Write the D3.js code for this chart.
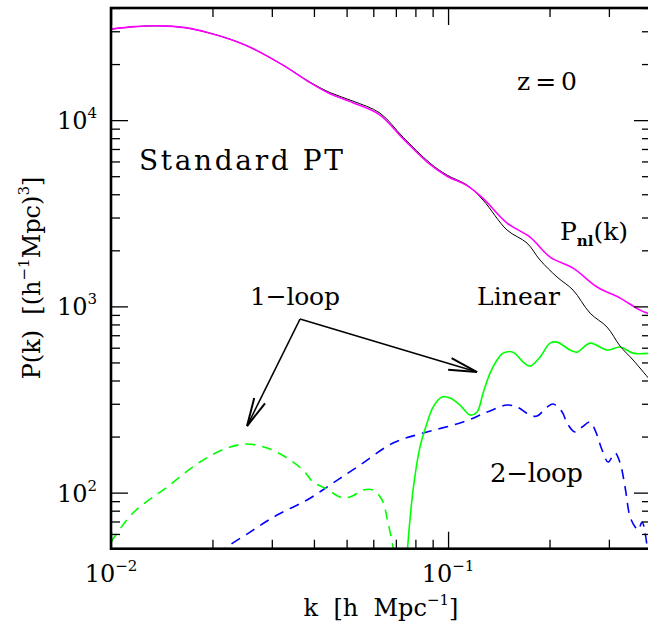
<!DOCTYPE html>
<html><head><meta charset="utf-8">
<script src="https://cdn.jsdelivr.net/npm/d3@7"></script>
<style>body{margin:0;background:#fff;overflow:hidden} text{font-family:"DejaVu Serif",serif;fill:#000;white-space:pre}</style>
</head><body><svg id="c" width="648" height="624"></svg>
<script>
// ---- data (k in h/Mpc, P in (Mpc/h)^3) ----
const linK = [0.0100,0.01178,0.01397,0.01658,0.01967,0.02254,0.02585,0.03239,0.03895,0.04467,0.05224,0.06282,0.07353,0.08843,0.09932,0.1139,0.1270,0.1497,0.1715,0.1875,0.2106,0.2349,0.2638,0.2963,0.3239,0.354,0.3975];
const linP = [30800,31770,32080,31370,29310,27210,24650,19740,15995,14050,12650,10905,8102,5877,5068,4478,3721,2568,2187,1772,1437,1223,920,774,612,515,402];
const nlK  = [0.0100,0.01178,0.01397,0.01658,0.01967,0.02254,0.02585,0.03239,0.03895,0.04467,0.05224,0.06282,0.07353,0.08843,0.09932,0.1139,0.1270,0.1497,0.1751,0.2008,0.2349,0.2768,0.3239,0.3713,0.3975];
const nlP  = [30800,31770,32080,31370,29310,27210,24650,19740,15900,13850,12400,10650,7950,5780,5000,4450,3800,2800,2355,1839,1606,1270,1108,955,909];
const oneLoopPosK = [0.0752,0.0758,0.07872,0.08255,0.08661,0.09027,0.09602,0.1014,0.1085,0.1162,0.1219,0.1270,0.1332,0.1397,0.1456,0.1559,0.1670,0.1751,0.1875,0.2008,0.2106,0.2301,0.2414,0.2638,0.2963,0.3239,0.354,0.3975];
const oneLoopPosP = [40,50,103,176,236,288,326,322,295,261,271,342,438,515,561,568,502,478,535,635,643,583,568,635,583,605,561,561];
const oneLoopNegK = [0.0100,0.01162,0.01466,0.01837,0.02209,0.02533,0.02904,0.03329,0.03713,0.03977,0.04375,0.04781,0.05119,0.05596,0.05990,0.06369,0.06637,0.06867,0.0690];
const oneLoopNegP = [54.3,77.7,107,146,173.5,182.3,173.5,153.4,132.2,114,104.5,94.7,94.7,103.3,103.3,91.3,68.7,50.4,42];
const twoLoopK = [0.0210,0.02149,0.02585,0.03110,0.03817,0.04558,0.05482,0.06867,0.08429,0.1108,0.1305,0.1497,0.1602,0.1751,0.1836,0.1967,0.2050,0.2180,0.2254,0.2381,0.2498,0.2638,0.2730,0.2864,0.2984,0.3129,0.3239,0.3350,0.3468,0.3589,0.3663,0.3764,0.3842,0.3923];
const twoLoopP = [46,49,61.4,75.8,91.3,112.6,140.7,184.6,208.9,239.3,270.7,295.3,288.1,260.9,257.7,288.1,298.9,270.7,236.4,211.5,225,239.3,216.8,169.3,146,163.2,144.2,107.2,74,65.4,63,69.5,60.7,46];

const xMajor = [0.01, 0.1];
const xMajorExp = ["\u22122", "\u22121"];
const xMinor = [0.02,0.03,0.04,0.05,0.06,0.07,0.08,0.09,0.2,0.3,0.4];
const yMajor = [100, 1000, 10000];
const yMajorExp = ["2", "3", "4"];
const yMinor = [50,60,70,80,90,200,300,400,500,600,700,800,900,2000,3000,4000,5000,6000,7000,8000,9000,20000,30000,40000];

// arrow annotation (data coords): apex, left tip, right tip
const arrowApex = [0.03637, 855];
const arrowTips = [[0.02533, 227.8], [0.1219, 444]];

// ---- layout ----
const L = 111, R = 651, T = 8, B = 548.7;
const svg = d3.select("#c");
const x = d3.scaleLog().domain([0.01, 0.4]).range([L, R]);
const y = d3.scaleLog().domain([50, 40000]).range([B, T]);

svg.append("defs").append("clipPath").attr("id","clip")
  .append("rect").attr("x",L).attr("y",T).attr("width",R-L).attr("height",B-T);

const line = d3.line().x(d=>x(d[0])).y(d=>y(d[1])).curve(d3.curveCatmullRom.alpha(0.5));
const zip = (a,b)=>a.map((v,i)=>[v,b[i]]);
const g = svg.append("g").attr("clip-path","url(#clip)");

g.append("path").attr("d", line(zip(twoLoopK,twoLoopP))).attr("fill","none")
  .attr("stroke","#0000ff").attr("stroke-width",1.6).attr("stroke-dasharray","10,7");
g.append("path").attr("d", line(zip(oneLoopNegK,oneLoopNegP))).attr("fill","none")
  .attr("stroke","#00ff00").attr("stroke-width",1.6).attr("stroke-dasharray","10,7");
g.append("path").attr("d", line(zip(oneLoopPosK,oneLoopPosP))).attr("fill","none")
  .attr("stroke","#00ff00").attr("stroke-width",1.6);
g.append("path").attr("d", line(zip(linK,linP))).attr("fill","none")
  .attr("stroke","#000").attr("stroke-width",1);
g.append("path").attr("d", line(zip(nlK,nlP))).attr("fill","none")
  .attr("stroke","#ff00ff").attr("stroke-width",1.6);

// ---- axes (inward ticks) ----
function styleAxis(sel){ sel.select(".domain").remove(); sel.selectAll("line").attr("stroke","#000").attr("stroke-width",1.3); }
svg.append("g").attr("transform",`translate(0,${B})`).call(d3.axisBottom(x).tickValues(xMajor).tickSize(-17).tickFormat("")).call(styleAxis);
svg.append("g").attr("transform",`translate(0,${B})`).call(d3.axisBottom(x).tickValues(xMinor).tickSize(-9).tickFormat("")).call(styleAxis);
svg.append("g").attr("transform",`translate(0,${T})`).call(d3.axisTop(x).tickValues(xMajor).tickSize(-17).tickFormat("")).call(styleAxis);
svg.append("g").attr("transform",`translate(0,${T})`).call(d3.axisTop(x).tickValues(xMinor).tickSize(-9).tickFormat("")).call(styleAxis);
svg.append("g").attr("transform",`translate(${L},0)`).call(d3.axisLeft(y).tickValues(yMajor).tickSize(-17).tickFormat("")).call(styleAxis);
svg.append("g").attr("transform",`translate(${L},0)`).call(d3.axisLeft(y).tickValues(yMinor).tickSize(-9).tickFormat("")).call(styleAxis);
svg.append("g").attr("transform",`translate(${R},0)`).call(d3.axisRight(y).tickValues(yMajor).tickSize(-17).tickFormat("")).call(styleAxis);
svg.append("g").attr("transform",`translate(${R},0)`).call(d3.axisRight(y).tickValues(yMinor).tickSize(-9).tickFormat("")).call(styleAxis);

svg.append("rect").attr("x",L).attr("y",T).attr("width",R-L).attr("height",B-T)
  .attr("fill","none").attr("stroke","#000").attr("stroke-width",2.6);

// tick labels
xMajor.forEach((v,i)=>{
  const t = svg.append("text").attr("x",x(v)).attr("y",582).attr("text-anchor","middle").attr("font-size",24);
  t.append("tspan").text("10");
  t.append("tspan").attr("font-size",15).attr("dy",-11).text(xMajorExp[i]);
});
yMajor.forEach((v,i)=>{
  const t = svg.append("text").attr("x",97).attr("y",y(v)+9).attr("text-anchor","end").attr("font-size",24);
  t.append("tspan").text("10");
  t.append("tspan").attr("font-size",15).attr("dy",-11).text(yMajorExp[i]);
});

// axis titles
const xt = svg.append("text").attr("x",381).attr("y",616).attr("text-anchor","middle").attr("font-size",24);
xt.append("tspan").text("k  [h  Mpc");
xt.append("tspan").attr("font-size",15).attr("dy",-11).text("\u22121");
xt.append("tspan").attr("dy",11).text("]");

const yt = svg.append("text").attr("transform","translate(40,278) rotate(-90)").attr("text-anchor","middle").attr("font-size",24);
yt.append("tspan").text("P(k)  [(h");
yt.append("tspan").attr("font-size",15).attr("dy",-11).text("\u22121");
yt.append("tspan").attr("dy",11).text("Mpc)");
yt.append("tspan").attr("font-size",15).attr("dy",-11).text("3");
yt.append("tspan").attr("dy",11).text("]");

// annotations
svg.append("text").attr("x",139).attr("y",170).attr("font-size",28).attr("textLength",204).attr("lengthAdjust","spacing").text("Standard PT");
svg.append("text").attr("x",517).attr("y",90).attr("font-size",25).attr("textLength",60).attr("lengthAdjust","spacing").text("z=0");
svg.append("text").attr("x",477).attr("y",305).attr("font-size",25).attr("textLength",83).attr("lengthAdjust","spacing").text("Linear");
svg.append("text").attr("x",250).attr("y",305).attr("font-size",25).attr("textLength",90).attr("lengthAdjust","spacing").text("1\u2212loop");
svg.append("text").attr("x",490).attr("y",482).attr("font-size",26).attr("textLength",93).attr("lengthAdjust","spacing").text("2\u2212loop");
const pn = svg.append("text").attr("x",560).attr("y",240).attr("font-size",25);
pn.append("tspan").text("P");
pn.append("tspan").attr("font-size",15).attr("font-weight","bold").attr("dy",6).text("nl");
pn.append("tspan").attr("dy",-6).text("(k)");

// arrows
const ax = x(arrowApex[0]), ay = y(arrowApex[1]);
arrowTips.forEach(tp=>{
  const tx = x(tp[0]), ty = y(tp[1]);
  svg.append("line").attr("x1",ax).attr("y1",ay).attr("x2",tx).attr("y2",ty).attr("stroke","#000").attr("stroke-width",1.5);
  const ang = Math.atan2(ay-ty, ax-tx), len = 29, half = 12*Math.PI/180;
  [-1,1].forEach(s=>{
    const a = ang + s*half;
    svg.append("line").attr("x1",tx).attr("y1",ty).attr("x2",tx+len*Math.cos(a)).attr("y2",ty+len*Math.sin(a))
      .attr("stroke","#000").attr("stroke-width",2);
  });
});
</script></body></html>
